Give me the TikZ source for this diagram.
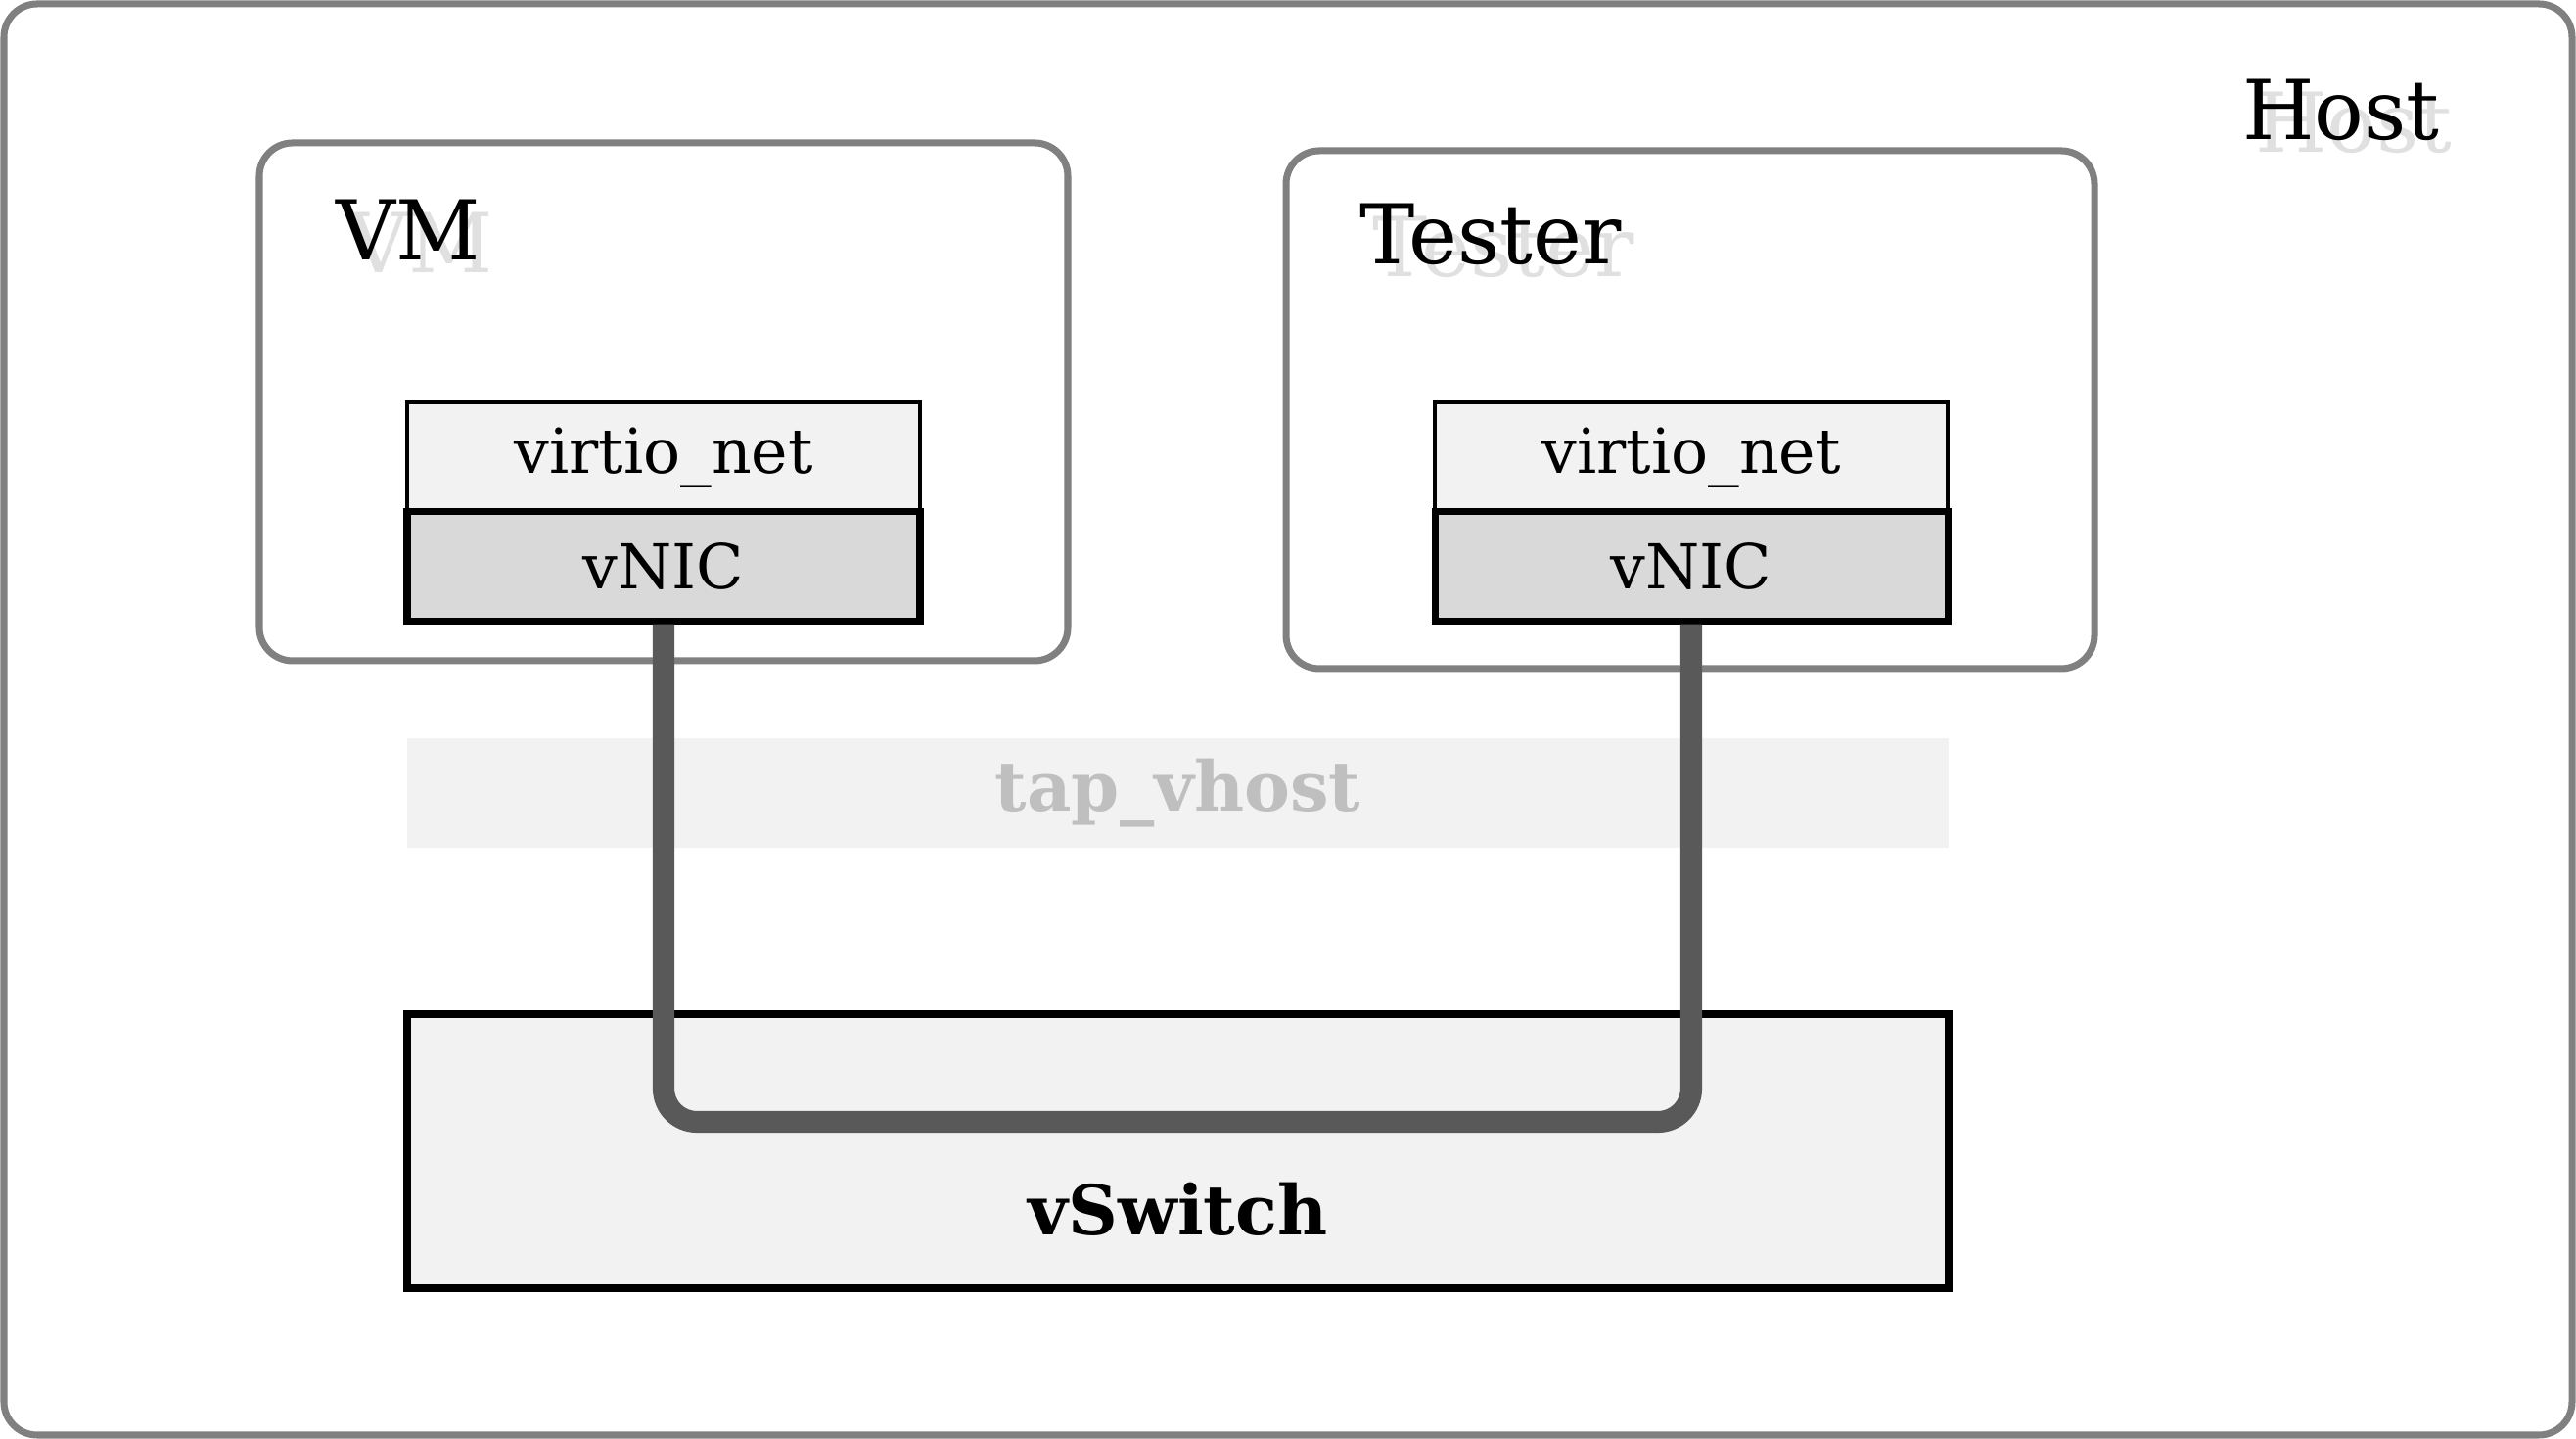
\documentclass[tikz,border=0pt]{standalone}
\usepackage{fontspec}
\setmainfont{DejaVu Serif}
\usetikzlibrary{positioning}
\definecolor{framegray}{rgb}{0.5, 0.5, 0.5}
\definecolor{paleface}{rgb}{0.95, 0.95, 0.95}
\definecolor{nicface}{rgb}{0.85, 0.85, 0.85}
\definecolor{linkgray}{rgb}{0.35, 0.35, 0.35}
\definecolor{shadowgray}{rgb}{0.88, 0.88, 0.88}
\definecolor{tapgray}{rgb}{0.75, 0.75, 0.75}
\tikzset{
  hostframe/.style={draw=framegray, line width=2pt, rounded corners=0.34cm, inner sep=0pt},
  titletext/.style={inner sep=0pt, font=\fontsize{24}{24}\selectfont},
  driverbox/.style={draw=black, fill=paleface, line width=0.9pt, minimum width=5.24cm,
    minimum height=1.13cm, inner sep=0pt, font=\fontsize{18}{18}\selectfont},
  nicbox/.style={driverbox, fill=nicface, line width=2pt, minimum height=1.12cm},
  link/.style={draw=linkgray, line width=6.3pt, rounded corners=0.34cm},
}

\begin{document}
\begin{tikzpicture}
  \useasboundingbox (0,0) rectangle (26.32,14.70);
  \coordinate (bottomrun) at (0,3.24);

  % outer frames
  \node [hostframe, minimum width=26.24cm, minimum height=14.62cm] (host) at (13.16,7.35) {};
  \node [hostframe, minimum width=8.26cm, minimum height=5.29cm] (vm) at (6.78,10.595) {};
  \node [hostframe, minimum width=8.26cm, minimum height=5.29cm] (tester) at (17.27,10.515) {};

  % titles with their pale shadow
  \foreach \x/\y/\name/\txt in
  {
    23.92/13.58/host/Host,
    4.17/12.35/vm/VM,
    15.23/12.31/tester/Tester
  }
  {
    \node [titletext, text=shadowgray] (\name-shadow) at (\x+0.13,\y-0.13) {\txt};
    \node [titletext] (\name-title) at (\x,\y) {\txt};
  }

  % host side
  \node [fill=paleface, minimum width=15.75cm, minimum height=1.12cm, inner sep=0pt,
    text=tapgray, font=\fontsize{20}{20}\selectfont\bfseries] (tap) at (12.035,6.60) {tap\_vhost};
  \node [draw=black, fill=paleface, line width=2.2pt, minimum width=15.75cm,
    minimum height=2.80cm, inner sep=0pt] (vswitch) at (12.035,2.94) {};
  \node [font=\fontsize{20}{20}\selectfont\bfseries] (vswitch-title) at (12.035,2.35) {vSwitch};

  % guest drivers
  \node [driverbox] (vm-virtio) at (6.78,10.025) {virtio\_net};
  \node [nicbox, below=-2pt of vm-virtio] (vm-nic) {vNIC};
  \node [driverbox] (tester-virtio) at (17.28,10.025) {virtio\_net};
  \node [nicbox, below=-2pt of tester-virtio] (tester-nic) {vNIC};

  \draw [link] (vm-nic.south) -- (vm-nic.south |- bottomrun)
    -- (tester-nic.south |- bottomrun) -- (tester-nic.south);

\end{tikzpicture}
\end{document}
